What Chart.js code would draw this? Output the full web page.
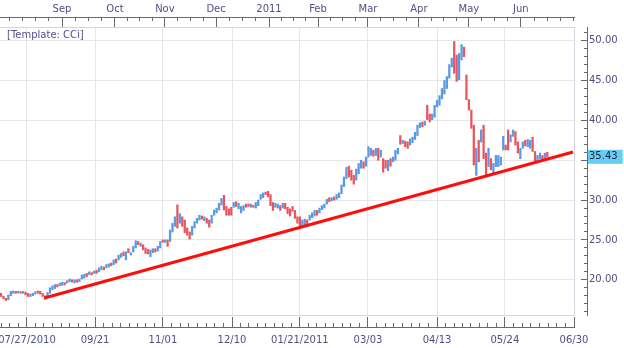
<!DOCTYPE html>
<html><head><meta charset="utf-8">
<script src="https://cdn.jsdelivr.net/npm/chart.js@4.4.1/dist/chart.umd.min.js"></script>
<style>
html,body{margin:0;padding:0;background:#fff;}
#wrap{position:relative;width:624px;height:348px;overflow:hidden;}
#tpl{position:absolute;left:7px;top:29px;font:10px "DejaVu Sans",sans-serif;color:#5b4b8f;white-space:nowrap;}
</style></head><body>
<div id="wrap"><canvas id="c" width="624" height="348"></canvas><div id="tpl">[Template: CCi]</div></div>
<script>
// ---- data (bar index = trading session, left to right) ----
const highs = [
18.3,17.95,17.7,18.1,18.55,18.6,18.55,18.55,18.5,18.55,18.45,18.3,18.2,18.3,18.5,18.6,18.55,18.3,18.0,18.4,
19.0,19.25,19.4,19.4,19.6,19.7,19.65,19.9,20.1,20.0,20.0,20.0,20.1,20.6,20.7,20.8,21.0,20.9,21.1,21.2,
21.5,21.7,21.6,21.9,22.0,22.1,22.5,22.6,23.1,23.3,23.5,23.5,23.9,23.4,24.2,24.9,24.8,24.6,24.4,24.0,
23.8,23.75,23.9,23.9,24.2,24.8,25.0,25.0,25.0,26.25,27.1,27.9,29.4,28.3,27.9,27.5,26.5,26.0,26.7,27.3,
27.7,28.1,28.0,27.9,27.7,27.5,28.1,28.75,29.0,29.6,30.2,30.6,29.2,28.9,29.1,29.7,29.8,29.6,29.2,29.3,
29.5,29.5,29.5,29.35,29.7,30.0,30.7,30.9,31.0,31.1,30.7,29.7,29.6,29.5,29.3,29.6,29.6,29.1,28.9,29.2,
28.7,27.9,27.9,27.5,27.6,27.5,28.1,28.4,28.7,28.7,29.0,29.3,29.5,30.1,30.3,30.3,30.4,30.7,30.9,31.9,
32.9,34.1,34.25,33.75,33.1,33.9,34.6,35.0,34.8,35.4,36.7,36.5,36.25,36.5,36.5,36.25,35.2,35.0,35.0,35.2,
35.4,36.25,36.5,38.1,37.5,37.4,37.3,37.7,37.9,38.5,39.4,39.7,39.8,39.9,41.9,40.8,40.8,41.9,42.5,43.1,
44.0,45.0,45.5,47.0,47.8,49.9,48.2,48.4,49.5,49.2,45.7,42.6,41.3,39.4,36.5,37.5,38.8,39.4,35.9,36.5,
35.2,34.6,35.6,35.6,35.4,38.0,36.9,38.8,38.2,38.8,38.6,37.3,36.5,37.3,37.5,37.6,37.5,37.9,36.1,35.6,
35.9,35.6,35.9,36.0
];
const lows = [
17.9,17.6,17.4,17.5,18.0,18.3,18.3,18.35,18.3,18.3,18.1,17.9,17.9,18.0,18.2,18.3,18.2,17.9,17.55,17.9,
18.3,18.75,18.9,19.1,19.25,19.3,19.35,19.6,19.75,19.7,19.6,19.7,19.75,20.1,20.2,20.4,20.65,20.6,20.8,20.8,
21.0,21.25,21.25,21.5,21.6,21.75,21.9,22.1,22.5,22.8,23.0,22.5,23.4,23.1,23.5,24.0,24.4,24.2,23.75,23.3,
23.25,22.9,23.4,23.5,23.6,24.0,24.7,24.7,24.2,24.8,26.0,26.7,26.5,27.1,26.7,25.9,25.6,25.1,25.6,26.5,
27.1,27.5,27.6,27.4,27.1,26.6,27.1,28.1,28.4,28.75,29.4,28.75,28.1,28.1,28.1,29.1,29.2,28.9,28.4,28.7,
29.1,29.2,29.1,29.1,29.0,29.3,30.1,30.3,30.7,30.4,29.3,28.7,29.1,29.0,28.7,29.0,28.9,28.3,28.0,28.6,
27.7,27.1,26.8,26.7,26.9,26.9,27.5,27.8,28.0,28.1,28.4,28.8,29.0,29.5,29.8,29.9,30.0,30.1,30.3,30.8,
31.7,32.7,32.9,32.5,32.0,32.5,33.3,34.0,34.0,34.25,35.4,35.6,35.5,35.6,35.0,35.4,33.5,34.0,33.7,34.25,
34.8,35.0,35.8,37.0,37.1,36.7,36.5,36.9,37.2,37.6,38.1,39.1,39.2,39.4,40.1,39.8,40.1,40.4,41.7,41.9,
42.7,43.3,44.0,45.3,46.7,45.9,44.9,45.1,47.6,48.0,42.6,41.3,39.0,34.4,33.1,34.8,37.3,35.2,32.9,34.2,
33.8,33.3,34.2,34.2,34.4,36.3,36.3,36.3,37.3,38.0,36.9,35.9,35.2,36.5,36.8,36.7,36.5,36.1,34.8,34.8,
35.2,35.2,35.2,35.4
];
const up = [
0,0,0,1,1,1,0,1,0,1,0,0,1,1,1,0,0,0,0,1,
1,1,1,0,1,1,0,1,1,0,1,0,1,1,1,0,1,0,1,0,
1,1,0,1,1,0,1,0,1,1,0,1,0,1,1,1,0,1,0,0,
0,1,1,0,1,1,0,1,0,1,1,1,0,1,0,0,0,0,1,1,
1,1,0,1,0,0,1,1,1,1,1,0,0,0,0,1,0,1,1,1,
0,0,1,0,1,1,1,1,0,0,0,0,1,1,0,1,0,0,0,0,
0,0,0,1,1,0,1,1,1,0,1,1,1,1,0,1,0,1,1,1,
1,1,0,0,0,1,1,1,0,1,1,1,0,1,0,1,0,0,1,0,
1,1,1,0,1,0,0,1,1,1,1,1,0,1,0,0,1,1,1,1,
1,1,1,1,1,0,0,1,1,0,0,0,0,0,1,0,1,0,0,1,
0,1,1,1,1,1,0,0,1,1,0,0,1,1,0,1,1,0,0,1,
1,0,1,0
];
const lastPrice = 35.43;
const trendX = [17.7, 233.5];
const trendY = [17.71, 36.04];

// ---- axes ----
const dateTickPos = [10.6, 38.4, 66.1, 94.3, 122.0, 149.8, 178.0, 205.7, 233.9];
const dateTickLabels = ['07/27/2010','09/21','11/01','12/10','01/21/2011','03/03','04/13','05/24','06/30'];
const monthTickPos = [24.9, 46.5, 66.9, 87.8, 109.4, 129.4, 149.8, 170.6, 191.0, 212.2];
const monthTickLabels = ['Sep','Oct','Nov','Dec','2011','Feb','Mar','Apr','May','Jun'];
const priceTicks = [20, 25, 30, 35, 40, 45, 50];
const X_MIN = -0.41, X_MAX = 233.9, Y_MIN = 15.58, Y_MAX = 51.72;

function subdivide(pos, n, lo, hi) {
  const out = [];
  const step = (pos[1] - pos[0]) / n;
  for (let v = pos[0] - step; v > lo; v -= step) out.push(v);
  for (let k = 0; k < pos.length - 1; k++) {
    const s = (pos[k + 1] - pos[k]) / n;
    for (let j = 0; j <= n; j++) out.push(pos[k] + j * s);
  }
  const last = pos[pos.length - 1];
  for (let v = last + step; v < hi; v += step) out.push(v);
  return out;
}
const bottomMinor = subdivide(dateTickPos, 8, X_MIN, X_MAX);
const topMinor = subdivide(monthTickPos, 4, X_MIN, X_MAX);
const priceMinor = [];
for (let v = 16; v <= 51; v++) priceMinor.push(v);

const BLUE = '#5a9ae2', RED = '#e9555d', TXT = '#4f4f86', RULE = '#6a6a6a', GRID = '#e6e6e6', FRAME = '#d2d8e2';

Chart.defaults.font.family = '"DejaVu Sans", sans-serif';
Chart.defaults.font.size = 10;

const setTicks = arr => s => { s.ticks = arr.map(v => ({ value: v })); };
const fixH = h => s => { s.height = h; s.paddingLeft = s.paddingRight = s.paddingTop = s.paddingBottom = 0; };
const fixW = w => s => { s.width = w; s.paddingLeft = s.paddingRight = s.paddingTop = s.paddingBottom = 0; };
const isLast = c => c.tick && c.tick.value === lastPrice;

const xCommon = { type: 'linear', min: X_MIN, max: X_MAX, bounds: 'data', offset: false };
const yCommon = { type: 'linear', min: Y_MIN, max: Y_MAX, bounds: 'data', position: 'right' };

new Chart(document.getElementById('c'), {
  type: 'bar',
  data: {
    datasets: [
      {
        type: 'line',
        data: trendX.map((x, i) => ({ x: x, y: trendY[i] })),
        borderColor: '#ff0d0d', borderWidth: 3, pointRadius: 0, order: 0,
        xAxisID: 'x', yAxisID: 'y'
      },
      {
        type: 'bar',
        data: highs.map((h, i) => ({ x: i, y: [lows[i], h] })),
        backgroundColor: up.map(u => u ? BLUE : RED),
        barThickness: 1.6, borderWidth: 0, borderSkipped: false, order: 1,
        xAxisID: 'x', yAxisID: 'y'
      }
    ]
  },
  options: {
    responsive: false, animation: false, events: [],
    layout: { padding: 0 },
    plugins: { legend: { display: false }, tooltip: { enabled: false } },
    scales: {
      x: Object.assign({}, xCommon, {
        position: 'bottom', weight: 0,
        afterBuildTicks: setTicks(dateTickPos), afterFit: fixH(12),
        ticks: { display: false },
        grid: { color: GRID, drawTicks: false, offset: false },
        border: { display: true, color: FRAME }
      }),
      xMinorB: Object.assign({}, xCommon, {
        position: 'bottom', weight: 1,
        afterBuildTicks: setTicks(bottomMinor), afterFit: fixH(0),
        ticks: { display: false },
        grid: { drawOnChartArea: false, tickLength: -4, tickColor: RULE, offset: false },
        border: { display: false }
      }),
      xB: Object.assign({}, xCommon, {
        position: 'bottom', weight: 2,
        afterBuildTicks: setTicks(dateTickPos), afterFit: fixH(21),
        ticks: { autoSkip: false, maxRotation: 0, padding: 17, color: TXT,
                 callback: (v, i) => dateTickLabels[i] },
        grid: { drawOnChartArea: false, tickLength: -10, tickColor: RULE, offset: false },
        border: { display: true, color: RULE }
      }),
      xTopPad: Object.assign({}, xCommon, {
        position: 'top', weight: 0,
        afterBuildTicks: setTicks([]), afterFit: fixH(10),
        ticks: { display: false },
        grid: { display: false, offset: false },
        border: { display: true, color: FRAME }
      }),
      xTopMinor: Object.assign({}, xCommon, {
        position: 'top', weight: 1,
        afterBuildTicks: setTicks(topMinor), afterFit: fixH(0),
        ticks: { display: false },
        grid: { drawOnChartArea: false, tickLength: -4, tickColor: RULE, offset: false },
        border: { display: false }
      }),
      xTop: Object.assign({}, xCommon, {
        position: 'top', weight: 2,
        afterBuildTicks: setTicks(monthTickPos), afterFit: fixH(17),
        ticks: { autoSkip: false, maxRotation: 0, padding: 12, color: TXT,
                 callback: (v, i) => monthTickLabels[i] },
        grid: { drawOnChartArea: false, tickLength: -10, tickColor: RULE, offset: false },
        border: { display: true, color: RULE }
      }),
      y: Object.assign({}, yCommon, {
        weight: 0,
        afterBuildTicks: setTicks(priceTicks), afterFit: fixW(13),
        ticks: { display: false },
        grid: { color: GRID, drawTicks: false },
        border: { display: true, color: FRAME }
      }),
      yMinor: Object.assign({}, yCommon, {
        weight: 1,
        afterBuildTicks: setTicks(priceMinor), afterFit: fixW(0),
        ticks: { display: false },
        grid: { drawOnChartArea: false, tickLength: -3, tickColor: RULE },
        border: { display: false }
      }),
      yMajor: Object.assign({}, yCommon, {
        weight: 2,
        afterBuildTicks: setTicks(priceTicks.concat([lastPrice])), afterFit: fixW(37),
        ticks: {
          padding: 8, autoSkip: false,
          color: c => isLast(c) ? '#16233d' : TXT,
          callback: v => v.toFixed(2),
          showLabelBackdrop: c => isLast(c),
          backdropColor: c => isLast(c) ? '#66cdf4' : 'rgba(0,0,0,0)',
          backdropPadding: { top: 1, bottom: 1, left: 1, right: 5 }
        },
        grid: { drawOnChartArea: false, tickLength: -6,
                tickColor: c => isLast(c) ? 'rgba(0,0,0,0)' : RULE },
        border: { display: true, color: RULE }
      })
    }
  }
});
</script>
</body></html>
